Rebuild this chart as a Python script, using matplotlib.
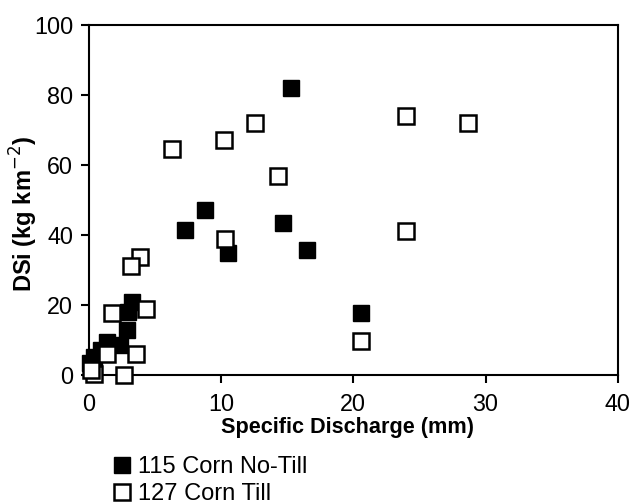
import matplotlib
matplotlib.use("Agg")
import matplotlib.pyplot as plt

# 115 Corn No-Till (filled squares)
notill_x = [15.3, 8.8, 7.3, 10.5, 14.7, 16.5, 20.6, 3.3, 3.0, 2.9, 2.4, 1.4, 0.9, 0.4, 0.1]
notill_y = [82.0, 47.1, 41.4, 34.8, 43.5, 35.7, 17.7, 20.9, 18.0, 12.9, 8.6, 9.5, 7.1, 5.2, 3.4]

# 127 Corn Till (open squares)
till_x = [6.3, 10.2, 12.6, 14.3, 10.3, 24.0, 28.7, 24.0, 20.6, 3.9, 3.2, 4.3, 1.8, 3.6, 1.4, 0.4, 2.7, 0.2]
till_y = [64.5, 67.3, 71.9, 56.9, 39.0, 74.1, 72.1, 41.1, 9.8, 33.6, 31.1, 19.0, 17.8, 6.0, 6.0, 0.3, 0.0, 1.5]

x_ticks = [0, 10, 20, 30, 40]
y_ticks = [0, 20, 40, 60, 80, 100]

plt.rcParams['font.family'] = ['Liberation Sans', 'DejaVu Sans']

fig = plt.figure(figsize=(6.33, 5.04), dpi=100)
ax = fig.add_axes([0.14, 0.256, 0.836, 0.694])

ax.plot(notill_x, notill_y, 's', ms=12, mfc='black', mec='black', mew=1,
        linestyle='none', label='115 Corn No-Till', clip_on=False, zorder=3)
ax.plot(till_x, till_y, 's', ms=11.5, mfc='white', mec='black', mew=1.8,
        linestyle='none', label='127 Corn Till', clip_on=False, zorder=4)

ax.set_xlim(0, 40)
ax.set_ylim(0, 100)
ax.set_xticks(x_ticks)
ax.set_yticks(y_ticks)
ax.tick_params(direction='out', length=6, width=1.5, labelsize=16.8)
ax.tick_params(axis='x', pad=7)
ax.tick_params(axis='y', pad=5)
for s in ax.spines.values():
    s.set_linewidth(1.5)

ax.set_xlabel('Specific Discharge (mm)', fontsize=15.6, fontweight='bold')
ax.xaxis.set_label_coords(0.49, -0.12)
ax.set_ylabel('DSi (kg km$^{-2}$)', fontsize=17, fontweight='bold')
ax.yaxis.set_label_coords(-0.092, 0.46)

# legend under the plot, no frame
leg = fig.legend(loc='upper left', bbox_to_anchor=(0.165, 0.113), frameon=False,
                 fontsize=17, markerscale=1.0, handlelength=0.7, handletextpad=0.3,
                 labelspacing=0.2, borderaxespad=0)

fig.savefig('out.png', dpi=100)
